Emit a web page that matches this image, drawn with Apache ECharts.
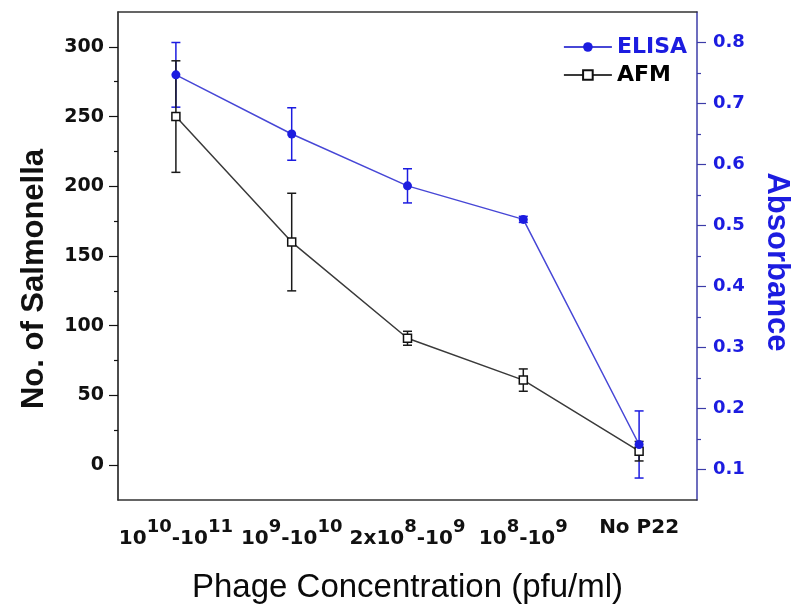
<!DOCTYPE html>
<html>
<head>
<meta charset="utf-8">
<script src="https://cdn.jsdelivr.net/npm/echarts@6/dist/echarts.min.js"></script>
<style>html,body{margin:0;padding:0;background:#fff}#c{width:800px;height:613px}</style>
</head>
<body>
<div id="c"></div>
<script>
// ---- data ----
const categories = ['1e10-1e11', '1e9-1e10', '2e8-1e9', '1e8-1e9', 'No P22'];
const tickLabels = [
  '{b|10}{s|10}{b|-10}{s|11}',
  '{b|10}{s|9}{b|-10}{s|10}',
  '{b|2x10}{s|8}{b|-10}{s|9}',
  '{b|10}{s|8}{b|-10}{s|9}',
  '{n|No P22}'
];
const elisa    = [0.747, 0.650, 0.565, 0.510, 0.141];
const elisaErr = [0.053, 0.043, 0.028, 0.005, 0.055];
const afm      = [250, 160, 91, 61, 10];
const afmErr   = [40, 35, 5, 8, 7];
const leftTicks  = [0, 50, 100, 150, 200, 250, 300];
const leftMinor  = [25, 75, 125, 175, 225, 275];
const rightTicks = [0.1, 0.2, 0.3, 0.4, 0.5, 0.6, 0.7, 0.8];
const rightMinor = [0.15, 0.25, 0.35, 0.45, 0.55, 0.65, 0.75];

const BLUE = '#1c1ce0';
const BLUE_LINE = '#4747d6';
const AXIS_BLUE = '#3c3ca8';
const TICKFONT = 'DejaVu Sans';

function errData(vals, errs) {
  return vals.map((v, i) => [i, v + errs[i], v - errs[i]]);
}
function errRender(color) {
  return function (params, api) {
    const x = api.value(0);
    const hi = api.coord([x, api.value(1)]);
    const lo = api.coord([x, api.value(2)]);
    const w = 4.5;
    const st = { stroke: color, lineWidth: 1.5 };
    return {
      type: 'group',
      children: [
        { type: 'line', shape: { x1: hi[0], y1: hi[1], x2: lo[0], y2: lo[1] }, style: st },
        { type: 'line', shape: { x1: hi[0] - w, y1: hi[1], x2: hi[0] + w, y2: hi[1] }, style: st },
        { type: 'line', shape: { x1: lo[0] - w, y1: lo[1], x2: lo[0] + w, y2: lo[1] }, style: st }
      ]
    };
  };
}

const chart = echarts.init(document.getElementById('c'), null, { renderer: 'canvas' });
chart.setOption({
  backgroundColor: '#fff',
  animation: false,
  grid: { left: 118, right: 103, top: 12, bottom: 113 },
  legend: {
    orient: 'vertical',
    right: 108,
    top: 31,
    itemGap: 6,
    itemWidth: 48,
    itemHeight: 12,
    textStyle: { fontFamily: TICKFONT, fontWeight: 'bold', fontSize: 22, lineHeight: 22 },
    data: [
      { name: 'ELISA', textStyle: { color: BLUE } },
      { name: 'AFM', textStyle: { color: '#000' } }
    ]
  },
  xAxis: [
    {
      type: 'category',
      data: categories,
      position: 'bottom',
      boundaryGap: true,
      axisLine: { onZero: false, lineStyle: { color: '#333', width: 1.5 } },
      axisTick: { alignWithLabel: true, length: 8, lineStyle: { color: '#333', width: 1.2 } },
      axisLabel: {
        margin: 18,
        interval: 0,
        formatter: (v, i) => tickLabels[i],
        rich: {
          b: { fontFamily: TICKFONT, fontWeight: 'bold', fontSize: 20, color: '#111', lineHeight: 31, verticalAlign: 'bottom' },
          s: { fontFamily: TICKFONT, fontWeight: 'bold', fontSize: 18, color: '#111', lineHeight: 31, verticalAlign: 'top' },
          n: { fontFamily: TICKFONT, fontWeight: 'bold', fontSize: 20, color: '#111', lineHeight: 22, verticalAlign: 'top' }
        }
      },
      name: 'Phage Concentration (pfu/ml)',
      nameLocation: 'middle',
      nameGap: 71,
      nameTextStyle: { fontFamily: 'Liberation Sans', fontSize: 33, color: '#0a0a0a' }
    },
    {
      type: 'category',
      data: categories,
      position: 'top',
      boundaryGap: true,
      axisLine: { onZero: false, lineStyle: { color: '#333', width: 1.5 } },
      axisTick: { alignWithLabel: true, inside: true, length: 6, lineStyle: { color: '#333', width: 1.2 } },
      axisLabel: { show: false }
    }
  ],
  yAxis: [
    {
      type: 'value', min: -25, max: 325, position: 'left',
      axisLine: { show: true, onZero: false, lineStyle: { color: '#111', width: 1.5 } },
      axisTick: { show: true, length: 9, customValues: leftTicks, lineStyle: { color: '#111', width: 1.2 } },
      axisLabel: { customValues: leftTicks, margin: 14, fontFamily: TICKFONT, fontWeight: 'bold', fontSize: 19, color: '#111' },
      splitLine: { show: false },
      name: 'No. of Salmonella',
      nameLocation: 'middle',
      nameGap: 68,
      nameTextStyle: { fontFamily: 'Liberation Sans', fontWeight: 'bold', fontSize: 31, color: '#111', padding: [0, 46, 0, 0] }
    },
    {
      type: 'value', min: 0.05, max: 0.85, position: 'right',
      axisLine: { show: true, onZero: false, lineStyle: { color: AXIS_BLUE, width: 1.5 } },
      axisTick: { show: true, length: 9, customValues: rightTicks, lineStyle: { color: AXIS_BLUE, width: 1.2 } },
      axisLabel: { customValues: rightTicks, margin: 16, fontFamily: TICKFONT, fontWeight: 'bold', fontSize: 18, color: BLUE, formatter: v => v.toFixed(1) },
      splitLine: { show: false },
      name: 'Absorbance',
      nameLocation: 'middle',
      nameRotate: -90,
      nameGap: 64,
      nameTextStyle: { fontFamily: 'Liberation Sans', fontWeight: 'bold', fontSize: 31, color: BLUE, padding: [0, 0, 0, 12] }
    },
    {
      type: 'value', min: -25, max: 325, position: 'left',
      axisLine: { show: false, onZero: false },
      axisTick: { show: true, length: 4, customValues: leftMinor, lineStyle: { color: '#111', width: 1.2 } },
      axisLabel: { show: false },
      splitLine: { show: false }
    },
    {
      type: 'value', min: 0.05, max: 0.85, position: 'right',
      axisLine: { show: false, onZero: false },
      axisTick: { show: true, length: 4, customValues: rightMinor, lineStyle: { color: AXIS_BLUE, width: 1.2 } },
      axisLabel: { show: false },
      splitLine: { show: false }
    }
  ],
  series: [
    {
      name: 'ELISA err', type: 'custom', xAxisIndex: 0, yAxisIndex: 1,
      renderItem: errRender(BLUE), data: errData(elisa, elisaErr),
      encode: { x: 0, y: [1, 2] }, z: 2, silent: true
    },
    {
      name: 'AFM err', type: 'custom', xAxisIndex: 0, yAxisIndex: 0,
      renderItem: errRender('#1a1a1a'), data: errData(afm, afmErr),
      encode: { x: 0, y: [1, 2] }, z: 2, silent: true
    },
    {
      name: 'AFM', type: 'line', xAxisIndex: 0, yAxisIndex: 0, data: afm,
      symbol: 'rect', symbolSize: 8,
      lineStyle: { color: '#3a3a3a', width: 1.5 },
      itemStyle: { color: '#fff', borderColor: '#111', borderWidth: 1.5 },
      z: 3
    },
    {
      name: 'ELISA', type: 'line', xAxisIndex: 0, yAxisIndex: 1, data: elisa,
      symbol: 'circle', symbolSize: 9,
      lineStyle: { color: BLUE_LINE, width: 1.5 },
      itemStyle: { color: BLUE, borderColor: BLUE, borderWidth: 0 },
      z: 4
    }
  ]
});
</script>
</body>
</html>
